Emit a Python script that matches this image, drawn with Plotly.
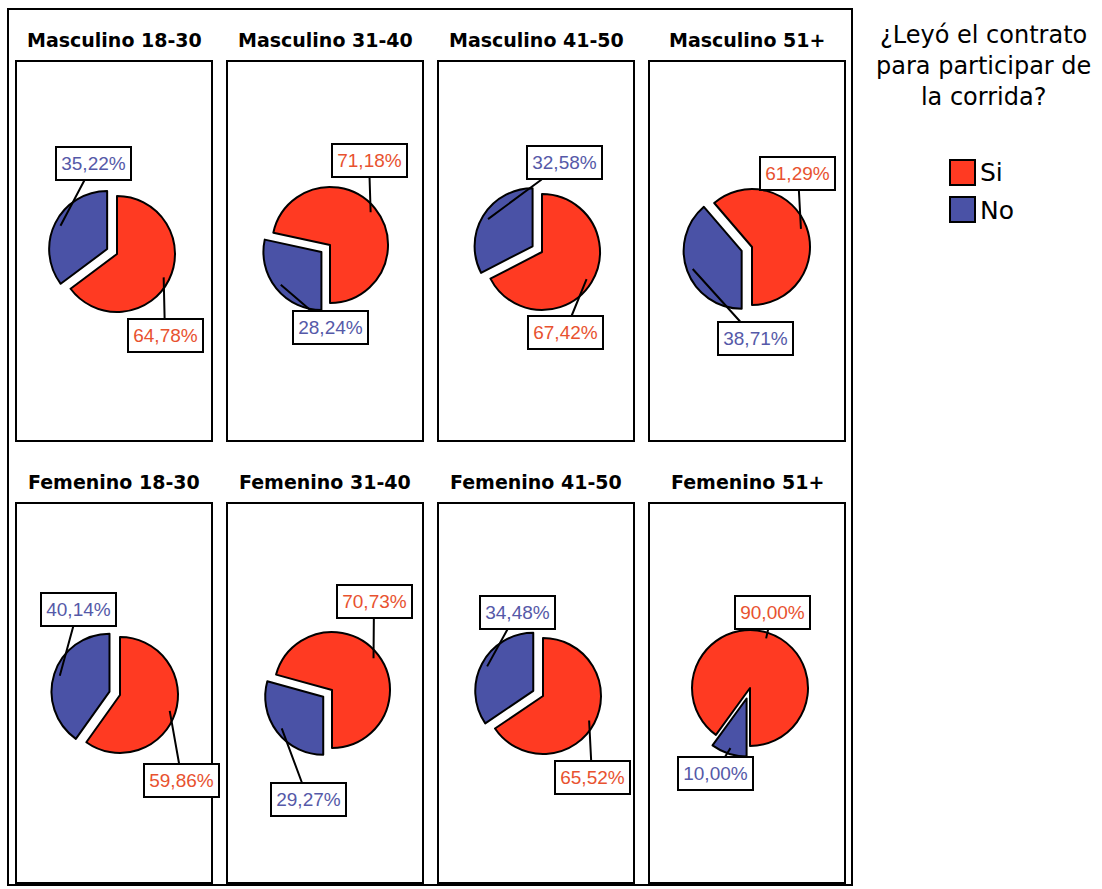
import math
import plotly.graph_objects as go

W, H = 1102, 889

# ---- data -------------------------------------------------------------
groups = ["Masculino 18-30", "Masculino 31-40", "Masculino 41-50", "Masculino 51+",
          "Femenino 18-30", "Femenino 31-40", "Femenino 41-50", "Femenino 51+"]
si_pct = [64.78, 71.18, 67.42, 61.29, 59.86, 70.73, 65.52, 90.00]
no_pct = [35.22, 28.24, 32.58, 38.71, 40.14, 29.27, 34.48, 10.00]
answer_labels = ["Si", "No"]
legend_title = ["¿Leyó el contrato", "para participar de", "la corrida?"]

# ---- layout (pixels) --------------------------------------------------
# where the "Si" slice is anchored: starts at 12 o'clock or ends at 6 o'clock
si_anchor = ["top", "bottom", "top", "bottom", "top", "bottom", "top", "bottom"]
pie_centers = [(117, 254), (330, 245), (542, 252), (752, 247),
               (120, 695), (332, 690), (543, 696), (750, 688)]
si_boxes = [(165, 335), (369, 160), (565, 332), (798, 174),
            (182, 780), (374, 601), (592, 777), (772, 612)]
no_boxes = [(93, 164), (330, 327), (564, 163), (755, 338),
            (78, 609), (308, 799), (517, 612), (715, 773)]
panel_left = [16, 227, 438, 649]
panel_w = 196
row_top = [61, 503]
row_bottom = [441, 883]
title_y = [40, 482]

R = 58          # pie radius
PULL = 0.19     # explode of the "No" slice
SI_COLOR = "#FF3A22"
NO_COLOR = "#4A52A6"
SI_TEXT = "#E8522F"
NO_TEXT = "#5559A8"
FONT = "DejaVu Sans"
LABEL_FONT = "Liberation Sans"


def px(x):
    return x / W


def py(y):
    return 1 - y / H


def direction(deg):
    a = math.radians(deg)
    return math.sin(a), -math.cos(a)


def fmt(v):
    return f"{v:.2f}%".replace(".", ",")


fig = go.Figure()
annotations = []
shapes = []

# outer frame
shapes.append(dict(type="rect", xref="paper", yref="paper",
                   x0=px(8), x1=px(852), y0=py(885), y1=py(9),
                   line=dict(color="black", width=2)))

for i, name in enumerate(groups):
    col, row = i % 4, i // 4
    cx, cy = pie_centers[i]
    si, no = si_pct[i], no_pct[i]
    tot = si + no
    si_span = 360 * si / tot
    no_span = 360 * no / tot
    rot = 0 if si_anchor[i] == "top" else 180 - si_span
    if rot < -180:
        rot += 360

    half = R * (1 + PULL)
    fig.add_trace(go.Pie(
        labels=answer_labels, values=[si, no], sort=False,
        direction="clockwise", rotation=rot, pull=[0, PULL],
        marker=dict(colors=[SI_COLOR, NO_COLOR], line=dict(color="black", width=2)),
        textinfo="none", hoverinfo="label+value", showlegend=False,
        domain=dict(x=[px(cx - half), px(cx + half)],
                    y=[py(cy + half), py(cy - half)]),
    ))

    # panel box and title
    x0 = panel_left[col]
    shapes.append(dict(type="rect", xref="paper", yref="paper",
                       x0=px(x0), x1=px(x0 + panel_w),
                       y0=py(row_bottom[row]), y1=py(row_top[row]),
                       line=dict(color="black", width=2)))
    annotations.append(dict(xref="paper", yref="paper",
                            x=px(x0 + panel_w / 2), y=py(title_y[row]),
                            text=f"<b>{name}</b>", showarrow=False,
                            xanchor="center", yanchor="middle",
                            font=dict(family=FONT, size=19, color="black")))

    # value labels with leader lines to the slice
    si_mid = rot + si_span / 2
    no_mid = rot + si_span + no_span / 2
    dx, dy = direction(si_mid)
    si_pt = (cx + 0.9 * R * dx, cy + 0.9 * R * dy)
    ndx, ndy = direction(no_mid)
    ncx, ncy = cx + PULL * R * ndx, cy + PULL * R * ndy
    no_pt = (ncx + 0.9 * R * ndx, ncy + 0.9 * R * ndy)

    for pt, box, val, tcol in ((si_pt, si_boxes[i], si, SI_TEXT),
                               (no_pt, no_boxes[i], no, NO_TEXT)):
        annotations.append(dict(
            xref="paper", yref="paper", x=px(pt[0]), y=py(pt[1]),
            ax=box[0] - pt[0], ay=box[1] - pt[1], axref="pixel", ayref="pixel",
            text=fmt(val), showarrow=True, arrowhead=0, arrowwidth=2,
            arrowcolor="black", standoff=0, startstandoff=0,
            width=67, height=25, borderpad=3, borderwidth=2,
            bordercolor="black", bgcolor="white",
            font=dict(family=LABEL_FONT, size=19, color=tcol),
        ))

# legend
annotations.append(dict(xref="paper", yref="paper", x=px(983), y=py(66),
                        text="<br>".join(legend_title), showarrow=False,
                        xanchor="center", yanchor="middle", align="center",
                        font=dict(family=FONT, size=24, color="black")))

legend_rows = [(160, SI_COLOR), (197, NO_COLOR)]
for (top, color), lab in zip(legend_rows, answer_labels):
    shapes.append(dict(type="rect", xref="paper", yref="paper",
                       x0=px(950), x1=px(975), y0=py(top + 25), y1=py(top),
                       fillcolor=color, line=dict(color="black", width=2)))
    annotations.append(dict(xref="paper", yref="paper", x=px(978), y=py(top + 13),
                            text=lab, showarrow=False, xanchor="left",
                            yanchor="middle",
                            font=dict(family=FONT, size=25, color="black")))

fig.update_layout(
    width=W, height=H, margin=dict(l=0, r=0, t=0, b=0),
    paper_bgcolor="white", plot_bgcolor="white",
    shapes=shapes, annotations=annotations, showlegend=False,
)

fig.write_html("out.html")
